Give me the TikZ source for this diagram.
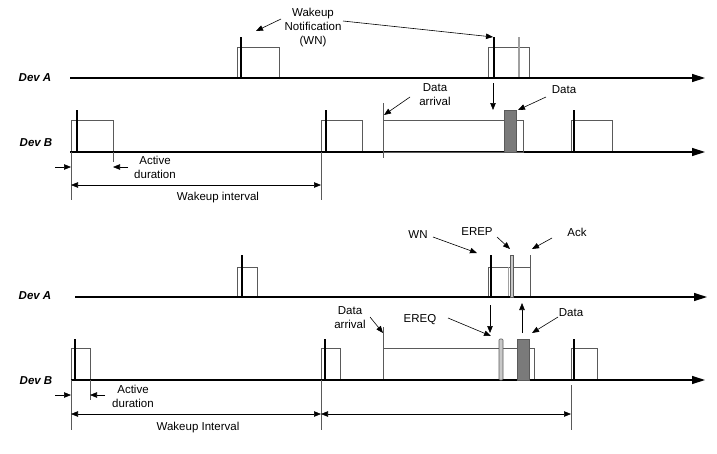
\documentclass[tikz,border=0pt]{standalone}
\usepackage{fontspec}
\setmainfont{Liberation Sans}
\usetikzlibrary{arrows.meta}
\definecolor{boxgray}{HTML}{5A5A5A}
\definecolor{lightbar}{HTML}{C8C8C8}
\definecolor{databar}{HTML}{7A7A7A}
\definecolor{thinbar}{HTML}{A0A0A0}
\begin{document}
\begin{tikzpicture}[x=1pt,y=-1pt,
 axis/.style={line width=1.3pt,-{Triangle[length=13pt,width=8pt]}},
 win/.style={draw=boxgray,line width=0.7pt},
 wnbar/.style={line width=2.6pt,black},
 ptr/.style={line width=0.6pt,-{Triangle[length=7pt,width=5.5pt]}},
 dim/.style={line width=0.6pt,{Triangle[length=7pt,width=5.5pt]}-{Triangle[length=7pt,width=5.5pt]}},
 ext/.style={line width=0.5pt,boxgray},
 lbl/.style={font=\fontsize{11.5}{14}\selectfont,align=center,inner sep=0pt},
 dev/.style={font=\fontsize{11.5}{14}\selectfont\bfseries\itshape,inner sep=0pt}]
\useasboundingbox (0,0) rectangle (717,453);

% ================= TOP DIAGRAM =================
% axes
\coordinate (tAs) at (70,78);  \coordinate (tAe) at (705,78);
\coordinate (tBs) at (70,152); \coordinate (tBe) at (705,152);
\node[dev] (tdevA) at (35,78) {Dev A};
\node[dev] (tdevB) at (36,143) {Dev B};

% Dev A windows
\draw[win] (237,78) rectangle (279,47);
\draw[win] (488,78) rectangle (529,47);
\draw[line width=1.4pt,thinbar] (519,37) -- (519,78);
% Dev B windows
\draw[win] (71,152) rectangle (113,120);
\draw[win] (321,152) rectangle (362,120);
\draw[win] (571,152) rectangle (612,120);
\draw[axis] (tAs) -- (tAe);
\draw[axis] (tBs) -- (tBe);
\draw[win] (383,152) rectangle (523,120);
\draw[ext] (383,103) -- (383,158);
\draw[fill=databar,draw=boxgray,line width=0.7pt] (504,110) rectangle (516,152);
% WN bars
\draw[wnbar] (241,37) -- (241,78);
\draw[wnbar] (494,37) -- (494,78);
\draw[wnbar] (77,110) -- (77,152);
\draw[wnbar] (326,110) -- (326,152);
\draw[wnbar] (574,110) -- (574,152);

% labels
\node[lbl] (twn) at (313,28) {Wakeup\\Notification\\(WN)};
\node[lbl] (tdarr) at (435,95) {Data\\arrival};
\node[lbl] (tdata) at (564,90) {Data};
\node[lbl] (tact) at (155,167) {Active\\duration};
\node[lbl] (tint) at (218,198) {Wakeup interval};

% pointer arrows
\coordinate (p1s) at (281,19);  \coordinate (p1e) at (256,31);
\coordinate (p2s) at (343,21);  \coordinate (p2e) at (493,37);
\coordinate (p3s) at (410,97);  \coordinate (p3e) at (384,115);
\coordinate (p4s) at (546,97);  \coordinate (p4e) at (518,110);
\coordinate (p5s) at (493,83);  \coordinate (p5e) at (493,110);
\draw[ptr] (p1s) -- (p1e);
\draw[ptr] (p2s) -- (p2e);
\draw[ptr] (p3s) -- (p3e);
\draw[ptr] (p4s) -- (p4e);
\draw[ptr] (p5s) -- (p5e);

% dimensions
\coordinate (e1t) at (71,152);  \coordinate (e1b) at (71,200);
\coordinate (e2t) at (113,152); \coordinate (e2b) at (113,162);
\coordinate (e3t) at (321,152); \coordinate (e3b) at (321,200);
\draw[ext] (e1t) -- (e1b);
\draw[ext] (e2t) -- (e2b);
\draw[ext] (e3t) -- (e3b);
\coordinate (ad1s) at (55,167);  \coordinate (ad1e) at (71,167);
\coordinate (ad2s) at (128,167); \coordinate (ad2e) at (113,167);
\draw[ptr] (ad1s) -- (ad1e);
\draw[ptr] (ad2s) -- (ad2e);
\coordinate (wi1) at (71,185); \coordinate (wi2) at (321,185);
\draw[dim] (wi1) -- (wi2);

% ================= BOTTOM DIAGRAM =================
\coordinate (bAs) at (75,297);  \coordinate (bAe) at (707,297);
\coordinate (bBs) at (71,380);  \coordinate (bBe) at (705,380);
\node[dev] (bdevA) at (35,296) {Dev A};
\node[dev] (bdevB) at (36,381) {Dev B};

% Dev A windows
\draw[win] (237,297) rectangle (257,267);
\draw[win] (488,297) rectangle (530,267);
\draw[line width=0.8pt,thinbar] (508,267) -- (508,297);
\draw[line width=1pt,boxgray] (530,255) -- (530,297);
% Dev B windows
\draw[win] (71,380) rectangle (90,348);
\draw[win] (321,380) rectangle (340,348);
\draw[win] (571,380) rectangle (597,348);
\draw[win] (383,380) rectangle (534,348);
\draw[ext] (383,327) -- (383,380);
\draw[axis] (bAs) -- (bAe);
\draw[axis] (bBs) -- (bBe);
% bars
\draw[fill=lightbar,draw=boxgray,line width=0.6pt] (510.5,255) rectangle (513.5,297);
\draw[fill=lightbar,draw=boxgray,line width=0.6pt,rounded corners=1pt] (499,339) rectangle (503,380);
\draw[fill=databar,draw=boxgray,line width=0.7pt] (517,339) rectangle (529,380);
\draw[wnbar] (242,255) -- (242,297);
\draw[wnbar] (491,255) -- (491,297);
\draw[wnbar] (75,339) -- (75,380);
\draw[wnbar] (325,339) -- (325,380);
\draw[wnbar] (574,339) -- (574,380);

% labels
\node[lbl] (bwn) at (418,235) {WN};
\node[lbl] (berep) at (477,232) {EREP};
\node[lbl] (back) at (577,232) {Ack};
\node[lbl] (bereq) at (420,320) {EREQ};
\node[lbl] (bdata) at (571,313) {Data};
\node[lbl] (bdarr) at (350,318) {Data\\arrival};
\node[lbl] (bact) at (133,396) {Active\\duration};
\node[lbl] (bint) at (198,428) {Wakeup Interval};

% pointer arrows
\coordinate (q1s) at (433,237); \coordinate (q1e) at (477,253);
\coordinate (q2s) at (497,237); \coordinate (q2e) at (510,249);
\coordinate (q3s) at (552,238); \coordinate (q3e) at (532,249);
\coordinate (q4s) at (490,305); \coordinate (q4e) at (490,333);
\coordinate (q5s) at (522,333); \coordinate (q5e) at (522,303);
\coordinate (q6s) at (448,318); \coordinate (q6e) at (491,336);
\coordinate (q7s) at (558,317); \coordinate (q7e) at (532,333);
\coordinate (q8s) at (370,317); \coordinate (q8e) at (383,333);
\draw[ptr] (q1s) -- (q1e);
\draw[ptr] (q2s) -- (q2e);
\draw[ptr] (q3s) -- (q3e);
\draw[ptr] (q4s) -- (q4e);
\draw[ptr] (q5s) -- (q5e);
\draw[ptr] (q6s) -- (q6e);
\draw[ptr] (q7s) -- (q7e);
\draw[ptr] (q8s) -- (q8e);

% dimensions
\coordinate (f1t) at (71,380);  \coordinate (f1b) at (71,430);
\coordinate (f2t) at (90,380);  \coordinate (f2b) at (90,400);
\coordinate (f3t) at (321,380); \coordinate (f3b) at (321,430);
\coordinate (f4t) at (571,385); \coordinate (f4b) at (571,430);
\draw[ext] (f1t) -- (f1b);
\draw[ext] (f2t) -- (f2b);
\draw[ext] (f3t) -- (f3b);
\draw[ext] (f4t) -- (f4b);
\coordinate (bd1s) at (55,395);  \coordinate (bd1e) at (71,395);
\coordinate (bd2s) at (105,395); \coordinate (bd2e) at (90,395);
\draw[ptr] (bd1s) -- (bd1e);
\draw[ptr] (bd2s) -- (bd2e);
\coordinate (wj1) at (71,414); \coordinate (wj2) at (321,414); \coordinate (wj3) at (571,414);
\draw[dim] (wj1) -- (wj2);
\draw[dim] (wj2) -- (wj3);
\end{tikzpicture}
\end{document}
